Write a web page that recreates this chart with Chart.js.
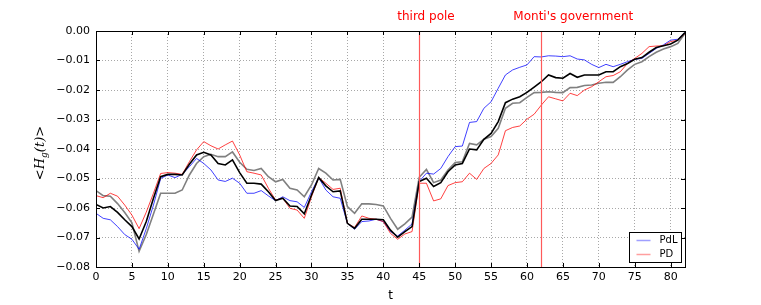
<!DOCTYPE html>
<html>
<head>
<meta charset="utf-8">
<script src="https://cdn.jsdelivr.net/npm/chart.js@4"></script>
<style>
  html, body { margin: 0; padding: 0; background: #fff; }
  #wrap { width: 761px; height: 305px; }
</style>
</head>
<body>
<div id="wrap"><canvas id="chart" width="761" height="305"></canvas></div>
<script>
// values per time step t = 0..82
const pdl = [
  -0.0618, -0.0635, -0.0640, -0.0663, -0.0690, -0.0706, -0.0740, -0.0670, -0.0590, -0.0500,
  -0.0488, -0.0497, -0.0486, -0.0460, -0.0432, -0.0449, -0.0471, -0.0505, -0.0510, -0.0499,
  -0.0516, -0.0550, -0.0550, -0.0541, -0.0559, -0.0575, -0.0562, -0.0575, -0.0579, -0.0598,
  -0.0545, -0.0497, -0.0539, -0.0562, -0.0567, -0.0652, -0.0672, -0.0646, -0.0644, -0.0638,
  -0.0646, -0.0680, -0.0695, -0.0675, -0.0654, -0.0510, -0.0482, -0.0485, -0.0466, -0.0426,
  -0.0392, -0.0390, -0.0310, -0.0307, -0.0262, -0.0240, -0.0194, -0.0149, -0.0132, -0.0123,
  -0.0115, -0.0087, -0.0088, -0.0084, -0.0085, -0.0087, -0.0084, -0.0095, -0.0098, -0.0113,
  -0.0124, -0.0113, -0.0121, -0.0113, -0.0104, -0.0096, -0.0093, -0.0076, -0.0059, -0.0047,
  -0.0031, -0.0028, -0.0005
];
const pd = [
  -0.0558, -0.0565, -0.0550, -0.0560, -0.0590, -0.0624, -0.0670, -0.0614, -0.0550, -0.0483,
  -0.0480, -0.0482, -0.0486, -0.0443, -0.0403, -0.0375, -0.0389, -0.0400, -0.0386, -0.0373,
  -0.0420, -0.0477, -0.0482, -0.0488, -0.0533, -0.0573, -0.0567, -0.0601, -0.0607, -0.0635,
  -0.0562, -0.0497, -0.0516, -0.0537, -0.0533, -0.0652, -0.0666, -0.0627, -0.0635, -0.0638,
  -0.0646, -0.0686, -0.0706, -0.0688, -0.0680, -0.0516, -0.0516, -0.0576, -0.0569, -0.0524,
  -0.0514, -0.0511, -0.0482, -0.0503, -0.0466, -0.0449, -0.0420, -0.0338, -0.0327, -0.0322,
  -0.0299, -0.0282, -0.0251, -0.0223, -0.0230, -0.0237, -0.0211, -0.0219, -0.0200, -0.0189,
  -0.0172, -0.0155, -0.0151, -0.0138, -0.0110, -0.0093, -0.0076, -0.0053, -0.0051, -0.0050,
  -0.0036, -0.0031, -0.0008
];
const average = [
  -0.0588, -0.0600, -0.0595, -0.0615, -0.0640, -0.0663, -0.0705, -0.0646, -0.0567, -0.0494,
  -0.0486, -0.0486, -0.0488, -0.0452, -0.0420, -0.0411, -0.0420, -0.0449, -0.0454, -0.0437,
  -0.0480, -0.0516, -0.0516, -0.0519, -0.0545, -0.0575, -0.0567, -0.0593, -0.0595, -0.0620,
  -0.0556, -0.0497, -0.0525, -0.0545, -0.0542, -0.0652, -0.0669, -0.0638, -0.0638, -0.0638,
  -0.0640, -0.0675, -0.0699, -0.0680, -0.0663, -0.0510, -0.0499, -0.0527, -0.0514, -0.0477,
  -0.0454, -0.0449, -0.0400, -0.0403, -0.0367, -0.0347, -0.0307, -0.0243, -0.0231, -0.0223,
  -0.0208, -0.0190, -0.0172, -0.0149, -0.0158, -0.0160, -0.0144, -0.0157, -0.0149, -0.0149,
  -0.0149, -0.0138, -0.0138, -0.0121, -0.0110, -0.0096, -0.0090, -0.0072, -0.0056, -0.0050,
  -0.0044, -0.0031, -0.0005
];
const baseline = [
  -0.0541, -0.0558, -0.0560, -0.0585, -0.0615, -0.0650, -0.0747, -0.0690, -0.0620, -0.0550,
  -0.0550, -0.0550, -0.0539, -0.0488, -0.0449, -0.0426, -0.0418, -0.0426, -0.0426, -0.0410,
  -0.0445, -0.0469, -0.0473, -0.0466, -0.0494, -0.0511, -0.0503, -0.0533, -0.0539, -0.0562,
  -0.0522, -0.0466, -0.0482, -0.0505, -0.0503, -0.0595, -0.0618, -0.0586, -0.0586, -0.0588,
  -0.0593, -0.0635, -0.0672, -0.0654, -0.0631, -0.0496, -0.0469, -0.0514, -0.0505, -0.0471,
  -0.0446, -0.0443, -0.0381, -0.0386, -0.0367, -0.0358, -0.0330, -0.0262, -0.0245, -0.0243,
  -0.0225, -0.0209, -0.0208, -0.0206, -0.0208, -0.0209, -0.0192, -0.0191, -0.0185, -0.0183,
  -0.0177, -0.0174, -0.0174, -0.0155, -0.0132, -0.0113, -0.0104, -0.0087, -0.0072, -0.0061,
  -0.0053, -0.0042, -0.0008
];

const xTickValues = [0, 5, 10, 15, 20, 25, 30, 35, 40, 45, 50, 55, 60, 65, 70, 75, 80];
const eventT = [45, 62];
const eventLabels = ["third pole", "Monti's government"];
const legendNames = ["PdL", "PD"];

const colors = {
  pdl: "rgba(0, 0, 255, 0.75)",
  pd: "rgba(255, 0, 0, 0.75)",
  average: "#000000",
  baseline: "#808080",
  event: "#ff5a5a",
  grid: "#a8a8a8",
};

const toPoints = (arr) => arr.map((v, i) => ({ x: i, y: v }));
const fmt = (v) => (Math.abs(v) < 1e-9 ? "0.00" : v.toFixed(2).replace("-", "\u2212"));

const decorations = {
  id: "decorations",
  afterDatasetsDraw(chart) {
    const { ctx, chartArea: a, scales } = chart;
    ctx.save();
    ctx.setLineDash([]);
    ctx.globalAlpha = 1;
    ctx.strokeStyle = colors.event;
    ctx.lineWidth = 1.2;
    eventT.forEach((t) => {
      const px = Math.round(scales.x.getPixelForValue(t)) + 0.5;
      ctx.beginPath();
      ctx.moveTo(px, a.top);
      ctx.lineTo(px, a.bottom);
      ctx.stroke();
    });
    ctx.restore();
  },
  afterDraw(chart) {
    const { ctx, chartArea: a, scales } = chart;
    ctx.save();
    ctx.setLineDash([]);

    // frame
    ctx.strokeStyle = "#000";
    ctx.lineWidth = 1;
    ctx.strokeRect(Math.round(a.left) + 0.5, Math.round(a.top) + 0.5,
      Math.round(a.right - a.left), Math.round(a.bottom - a.top));

    // inside ticks on all sides
    ctx.beginPath();
    scales.x.ticks.forEach((tk) => {
      const px = Math.round(scales.x.getPixelForValue(tk.value)) + 0.5;
      ctx.moveTo(px, a.bottom); ctx.lineTo(px, a.bottom - 4);
      ctx.moveTo(px, a.top); ctx.lineTo(px, a.top + 4);
    });
    scales.y.ticks.forEach((tk) => {
      const py = Math.round(scales.y.getPixelForValue(tk.value)) + 0.5;
      ctx.moveTo(a.left, py); ctx.lineTo(a.left + 4, py);
      ctx.moveTo(a.right, py); ctx.lineTo(a.right - 4, py);
    });
    ctx.stroke();

    // event labels
    ctx.fillStyle = "#ff0000";
    ctx.font = "12px 'DejaVu Sans'";
    ctx.textBaseline = "alphabetic";
    ctx.textAlign = "left";
    const labelShift = [22, 28];
    eventT.forEach((t, i) => {
      const px = scales.x.getPixelForValue(t);
      ctx.fillText(eventLabels[i], px - labelShift[i], 20);
    });

    // y axis title  <H_g(t)>
    ctx.fillStyle = "#000";
    ctx.translate(44, (a.top + a.bottom) / 2 + 4);
    ctx.rotate(-Math.PI / 2);
    const big = "italic 13px 'DejaVu Serif'";
    const small = "italic 9px 'DejaVu Serif'";
    const plain = "13px 'DejaVu Serif'";
    const parts = [["<", plain, 0], ["H", big, 0], ["g", small, 3], ["(t)", big, 0], [">", plain, 0]];
    let total = 0;
    parts.forEach((p) => { ctx.font = p[1]; total += ctx.measureText(p[0]).width; });
    let cx = -total / 2;
    parts.forEach((p) => {
      ctx.font = p[1];
      ctx.fillText(p[0], cx, p[2]);
      cx += ctx.measureText(p[0]).width;
    });
    ctx.setTransform(1, 0, 0, 1, 0, 0);

    // legend
    const bw = 52, bh = 30;
    const bx = Math.round(a.right - 4 - bw) + 0.5;
    const by = Math.round(a.bottom - 5 - bh) + 0.5;
    ctx.fillStyle = "#fff";
    ctx.fillRect(bx, by, bw, bh);
    ctx.strokeStyle = "#000";
    ctx.strokeRect(bx, by, bw, bh);
    ctx.font = "10px 'DejaVu Sans'";
    ctx.textBaseline = "middle";
    const legendColors = [colors.pdl, colors.pd];
    legendNames.forEach((name, i) => {
      const ly = by + 8 + i * 14;
      ctx.strokeStyle = legendColors[i];
      ctx.globalAlpha = 0.5;
      ctx.lineWidth = 1.5;
      ctx.beginPath();
      ctx.moveTo(bx + 7, ly);
      ctx.lineTo(bx + 21, ly);
      ctx.stroke();
      ctx.globalAlpha = 1;
      ctx.fillStyle = "#000";
      ctx.fillText(name, bx + 30, ly);
    });

    ctx.restore();
  },
};

new Chart(document.getElementById("chart"), {
  type: "line",
  data: {
    datasets: [
      { label: "PdL", data: toPoints(pdl), borderColor: colors.pdl, borderWidth: 1, order: 3 },
      { label: "PD", data: toPoints(pd), borderColor: colors.pd, borderWidth: 1, order: 2 },
      { label: "baseline", data: toPoints(baseline), borderColor: colors.baseline, borderWidth: 1.6, order: 4 },
      { label: "average", data: toPoints(average), borderColor: colors.average, borderWidth: 1.6, order: 1 },
    ],
  },
  options: {
    responsive: false,
    animation: false,
    events: [],
    layout: { padding: { top: 31, right: 76, left: 0, bottom: 0 } },
    elements: { point: { radius: 0 }, line: { tension: 0 } },
    plugins: { legend: { display: false }, tooltip: { enabled: false } },
    scales: {
      x: {
        type: "linear",
        min: 0,
        max: 82,
        afterFit: (s) => { s.height = 38; },
        afterBuildTicks: (s) => { s.ticks = xTickValues.map((v) => ({ value: v })); },
        ticks: { padding: 4, color: "#000", autoSkip: false, maxRotation: 0, font: { family: "DejaVu Sans", size: 11 } },
        grid: { color: colors.grid, drawTicks: false },
        border: { display: false, dash: [1, 2] },
        title: { display: true, text: "t", color: "#000", font: { family: "DejaVu Sans", size: 12 }, padding: { top: 0, bottom: 2 } },
      },
      y: {
        min: -0.08,
        max: 0,
        afterFit: (s) => { s.width = 96; },
        ticks: { stepSize: 0.01, padding: 6, color: "#000", callback: fmt, font: { family: "DejaVu Sans", size: 11 } },
        grid: { color: colors.grid, drawTicks: false },
        border: { display: false, dash: [1, 2] },
      },
    },
  },
  plugins: [decorations],
});
</script>
</body>
</html>
